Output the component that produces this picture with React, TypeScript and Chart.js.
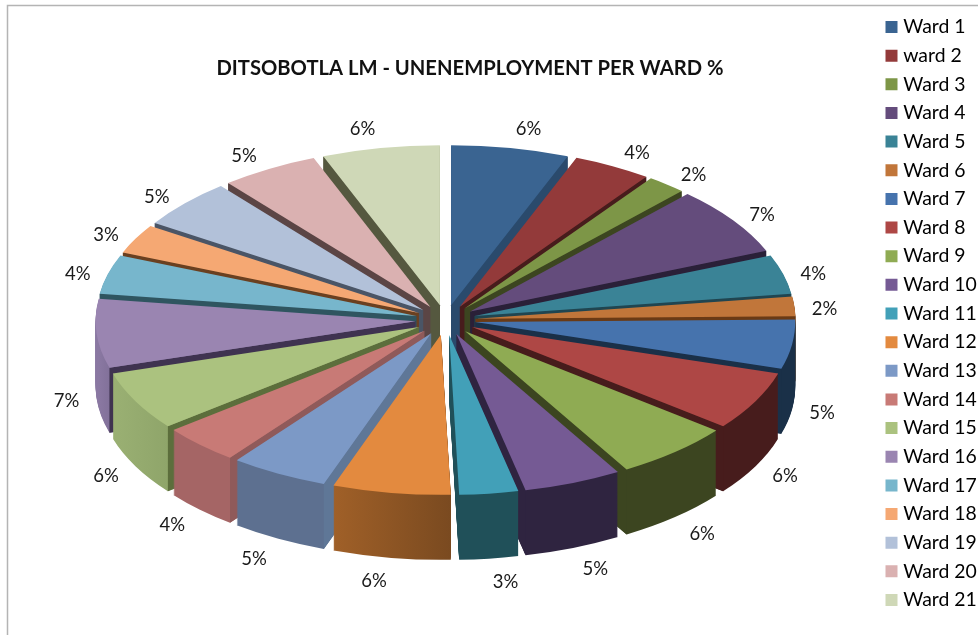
import React, { useEffect, useRef } from "react";
import { Chart, registerables } from "chart.js";

Chart.register(...registerables);

const TITLE = "DITSOBOTLA LM - UNENEMPLOYMENT PER WARD %";

const wards = [
  "Ward 1", "ward 2", "Ward 3", "Ward 4", "Ward 5", "Ward 6", "Ward 7",
  "Ward 8", "Ward 9", "Ward 10", "Ward 11", "Ward 12", "Ward 13", "Ward 14",
  "Ward 15", "Ward 16", "Ward 17", "Ward 18", "Ward 19", "Ward 20", "Ward 21",
];

const unemployment = [6, 4, 2, 7, 4, 2, 5, 6, 6, 5, 3, 6, 5, 4, 6, 7, 4, 3, 5, 5, 6];

const topColors = [
  "#3a6491", "#933a3a", "#7d9647", "#644c7c", "#3a8396", "#c1763a", "#4673ad",
  "#ae4745", "#8fab53", "#755a94", "#42a0b8", "#e38a3f", "#7c99c6", "#c87a76",
  "#abc27f", "#9a85b1", "#77b6cc", "#f5a873", "#b2c1d9", "#dab1b1", "#cfd8b7",
];

// Outer rim shades of each wedge, left to right.
const rimColors = [
  ["#2a4a6c", "#2a4a6c"], ["#471c1c", "#471c1c"], ["#3c4520", "#3c4520"],
  ["#2a2038", "#2a2038"], ["#204550", "#204550"], ["#6a3a15", "#6a3a15"],
  ["#1a3048", "#1a3048"], ["#471c1c", "#471c1c"], ["#3c4520", "#3c4520"],
  ["#2f2440", "#2f2440"], ["#205059", "#205059"], ["#a06028", "#7a4a20"],
  ["#5d7090", "#5d7090"], ["#a56565", "#a56565"], ["#9ab073", "#8fa56a"],
  ["#8a78a2", "#82719a"], ["#2f5560", "#2f5560"], ["#6a4020", "#6a4020"],
  ["#4a5566", "#4a5566"], ["#5b4545", "#5b4545"], ["#55583f", "#55583f"],
];

// Shade of the straight cut faces running in to the pie's centre.
const cutColors = [
  "#2a4a6c", "#471c1c", "#3c4520", "#2a2038", "#204550", "#6a3a15", "#1a3048",
  "#471c1c", "#3c4520", "#2f2440", "#205059", "#7a4a20", "#5f7797", "#8f5a5a",
  "#5c6e3c", "#3f3350", "#2f5560", "#6a4020", "#4a5566", "#5b4545", "#55583f",
];

// Projection of the tilted pie.
const CENTRE_X = 445.5;
const CENTRE_Y = 320;
const RADIUS = 320;
const EXPLODE = 30;
const TILT = 0.5;
const DEPTH = 65;
const LABEL_RADIUS = 380;

const LEGEND_GAP = 9.25;

const pie3d = {
  id: "pie3d",
  afterLayout(chart: any) {
    // The title and legend sit off-centre on this page.
    const title = chart.titleBlock;
    title.left -= 19;
    title.right -= 19;
    const legend = chart.legend;
    legend.left = 889.5 - LEGEND_GAP;
    legend.right = legend.left + legend.width;
    legend.top -= 4;
    legend.bottom -= 4;
  },
  beforeDraw(chart: any) {
    const { ctx, width, height } = chart;
    ctx.save();
    ctx.fillStyle = "#ffffff";
    ctx.fillRect(0, 0, width, height);
    ctx.strokeStyle = "#b4b4b4";
    ctx.lineWidth = 1.5;
    ctx.beginPath();
    ctx.moveTo(7.5, height);
    ctx.lineTo(7.5, 5.5);
    ctx.lineTo(width, 5.5);
    ctx.stroke();
    ctx.restore();
  },
  beforeDatasetsDraw(chart: any) {
    const { ctx } = chart;
    const arcs: any[] = chart.getDatasetMeta(0).data;
    const order = arcs
      .map((arc, i) => ({ arc, i, mid: (arc.startAngle + arc.endAngle) / 2 }))
      .sort((a, b) => Math.sin(a.mid) - Math.sin(b.mid));

    const paint = (arc: any, mid: number, drop: number, fill: any) => {
      ctx.save();
      ctx.translate(CENTRE_X, CENTRE_Y + drop);
      ctx.scale(1, TILT);
      ctx.translate(Math.cos(mid) * EXPLODE - arc.x, Math.sin(mid) * EXPLODE - arc.y);
      const saved = arc.options;
      arc.options = { ...saved, backgroundColor: fill, borderWidth: 0 };
      arc.draw(ctx);
      arc.options = saved;
      ctx.restore();
    };

    // Flat face below one straight edge of an exploded wedge.
    const paintCut = (mid: number, angle: number, fill: string) => {
      const ax = CENTRE_X + Math.cos(mid) * EXPLODE;
      const ay = CENTRE_Y + Math.sin(mid) * EXPLODE * TILT;
      const bx = ax + Math.cos(angle) * RADIUS;
      const by = ay + Math.sin(angle) * RADIUS * TILT;
      ctx.fillStyle = fill;
      ctx.beginPath();
      ctx.moveTo(ax, ay);
      ctx.lineTo(bx, by);
      ctx.lineTo(bx, by + DEPTH);
      ctx.lineTo(ax, ay + DEPTH);
      ctx.closePath();
      ctx.fill();
    };

    for (const { arc, i, mid } of order) {
      const xa = arc.x + RADIUS * Math.cos(arc.startAngle);
      const xb = arc.x + RADIUS * Math.cos(arc.endAngle);
      const wall = ctx.createLinearGradient(Math.min(xa, xb), 0, Math.max(xa, xb), 0);
      wall.addColorStop(0, rimColors[i][0]);
      wall.addColorStop(1, rimColors[i][1]);
      for (let drop = DEPTH; drop > 0; drop--) paint(arc, mid, drop, wall);
      if (Math.cos(arc.startAngle) < 0) paintCut(mid, arc.startAngle, cutColors[i]);
      if (Math.cos(arc.endAngle) > 0) paintCut(mid, arc.endAngle, cutColors[i]);
      paint(arc, mid, 0, topColors[i]);
    }

    // Percentage labels just beyond each wedge's rim.
    ctx.save();
    ctx.font = "18.5px Lato";
    ctx.fillStyle = "#1a1a1a";
    ctx.textAlign = "center";
    ctx.textBaseline = "middle";
    arcs.forEach((arc, i) => {
      const mid = (arc.startAngle + arc.endAngle) / 2;
      const c = Math.cos(mid);
      const s = Math.sin(mid);
      const x = CENTRE_X + LABEL_RADIUS * c + Math.sign(c) * 13 * s * s;
      const lift = s > 0 ? DEPTH + 1.5 + 7 * s * s : -4.5 + Math.min(8, 18 * c * c);
      const y = CENTRE_Y + LABEL_RADIUS * TILT * s + lift;
      ctx.fillText(`${unemployment[i]}%`, x, y);
    });
    ctx.restore();
    return false;
  },
};

export default function App() {
  const ref = useRef<HTMLCanvasElement>(null);

  useEffect(() => {
    const chart = new Chart(ref.current as HTMLCanvasElement, {
      type: "pie",
      data: {
        labels: wards,
        datasets: [
          {
            data: unemployment,
            backgroundColor: topColors,
            borderWidth: 0,
            radius: RADIUS,
            clip: false,
          } as any,
        ],
      },
      options: {
        responsive: false,
        animation: false,
        layout: { padding: 0 },
        plugins: {
          title: {
            display: true,
            text: TITLE,
            color: "#111111",
            font: { family: "Lato", size: 20.2, weight: "bold" },
            padding: { top: 56, bottom: 10 },
          },
          legend: {
            position: "right",
            labels: {
              boxWidth: 4,
              boxHeight: 4,
              padding: LEGEND_GAP,
              color: "#1a1a1a",
              font: { family: "Lato", size: 19.4 },
              generateLabels: () =>
                wards.map((text, i) => ({
                  text,
                  index: i,
                  fillStyle: topColors[i],
                  strokeStyle: topColors[i],
                  lineWidth: 8,
                  hidden: false,
                })),
            },
          },
          tooltip: { enabled: false },
        },
      },
      plugins: [pie3d],
    } as any);
    return () => chart.destroy();
  }, []);

  return (
    <div style={{ position: "fixed", inset: 0, background: "#ffffff" }}>
      <canvas ref={ref} width={978} height={635} style={{ display: "block" }} />
    </div>
  );
}
